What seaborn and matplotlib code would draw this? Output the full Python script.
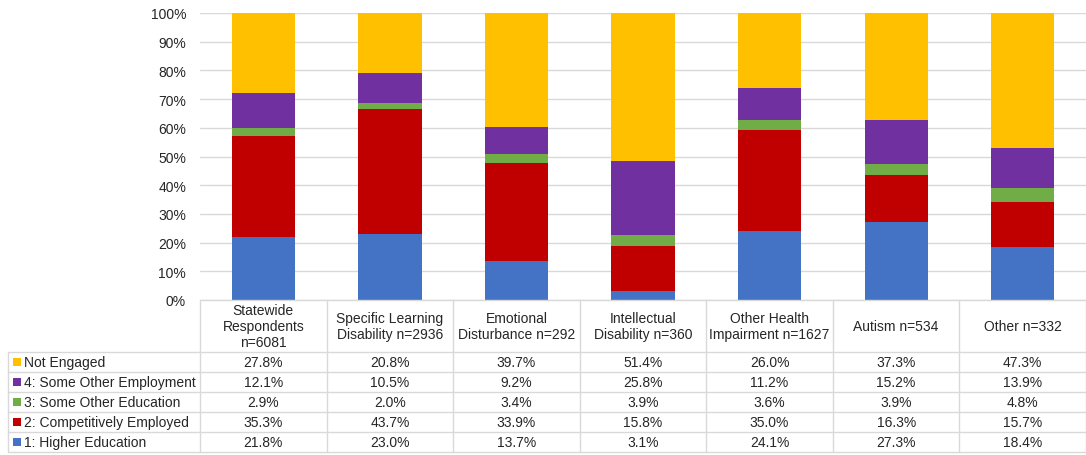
import matplotlib
matplotlib.use("Agg")
import matplotlib.pyplot as plt
from matplotlib.lines import Line2D
from matplotlib.patches import Rectangle
import numpy as np
import pandas as pd
import seaborn as sns

# Categories (column headers of the data table)
groups = [
    "Statewide\nRespondents\nn=6081",
    "Specific Learning\nDisability n=2936",
    "Emotional\nDisturbance n=292",
    "Intellectual\nDisability n=360",
    "Other Health\nImpairment n=1627",
    "Autism n=534",
    "Other n=332",
]

# Outcome shares (percent), stacked bottom to top
higher_education = [21.8, 23.0, 13.7, 3.1, 24.1, 27.3, 18.4]
competitively_employed = [35.3, 43.7, 33.9, 15.8, 35.0, 16.3, 15.7]
some_other_education = [2.9, 2.0, 3.4, 3.9, 3.6, 3.9, 4.8]
some_other_employment = [12.1, 10.5, 9.2, 25.8, 11.2, 15.2, 13.9]
not_engaged = [27.8, 20.8, 39.7, 51.4, 26.0, 37.3, 47.3]

series_names = [
    "1: Higher Education",
    "2: Competitively Employed",
    "3: Some Other Education",
    "4: Some Other Employment",
    "Not Engaged",
]
series_values = [higher_education, competitively_employed, some_other_education,
                 some_other_employment, not_engaged]
colors = ["#4472C4", "#C00000", "#70AD47", "#7030A0", "#FFC000"]

sns.set_theme(style="white")
plt.rcParams["font.family"] = ["Liberation Sans", "DejaVu Sans"]

FS = 10
TXT = "#262626"

W, H = 1086, 456
fig = plt.figure(figsize=(W / 100, H / 100), dpi=100)

def fx(px):
    return px / W

def fy(py):
    return 1 - py / H

left_px, right_px, top_px, bottom_px = 200, 1086, 14, 301
ax = fig.add_axes([fx(left_px), fy(bottom_px), fx(right_px - left_px), (bottom_px - top_px) / H])

bottom = np.zeros(len(groups))
for name, vals, col in zip(series_names, series_values, colors):
    d = pd.DataFrame({"x": list(range(len(groups))), "y": vals})
    sns.barplot(data=d, x="x", y="y", color=col, width=0.5, bottom=bottom,
                ax=ax, saturation=1, edgecolor="none", linewidth=0, zorder=3)
    bottom = bottom + np.array(vals)

ax.set_xlim(-0.5, len(groups) - 0.5)
ax.set_ylim(0, 100)
ax.set_yticks(np.arange(0, 101, 10))
ax.set_yticklabels([f"{v}%" for v in range(0, 101, 10)], fontsize=FS, color=TXT)
ax.tick_params(axis="y", length=0, pad=10)
ax.set_xticks([])
ax.set_xlabel("")
ax.set_ylabel("")
ax.grid(axis="y", color="#D9D9D9", linewidth=1, zorder=0)
for s in ax.spines.values():
    s.set_visible(False)

# Data table below the chart
line_color = "#D9D9D9"
col_edges = np.linspace(left_px, right_px, len(groups) + 1)
row_edges = [353, 373, 393, 413, 433, 453]
table_left = 8

def hline(y, x0, x1):
    fig.add_artist(Line2D([fx(x0), fx(x1)], [fy(y), fy(y)], color=line_color, linewidth=1))

def vline(x, y0, y1):
    fig.add_artist(Line2D([fx(x), fx(x)], [fy(y0), fy(y1)], color=line_color, linewidth=1))

hline(bottom_px, left_px, right_px)
for y in row_edges:
    hline(y, table_left, right_px)
for x in col_edges:
    vline(x, bottom_px, row_edges[-1])
vline(table_left, row_edges[0], row_edges[-1])

# Column headers
for i, g in enumerate(groups):
    cx = (col_edges[i] + col_edges[i + 1]) / 2
    fig.text(fx(cx), fy((bottom_px + row_edges[0]) / 2), g, ha="center", va="center",
             fontsize=FS, color=TXT, linespacing=1.15)

# Rows: top row is the last series
row_order = list(range(len(series_names)))[::-1]
for r, si in enumerate(row_order):
    y0, y1 = row_edges[r], row_edges[r + 1]
    cy = (y0 + y1) / 2
    fig.add_artist(Rectangle((fx(13), fy(cy + 4)), fx(8), 8 / H, facecolor=colors[si],
                             edgecolor="none", transform=fig.transFigure))
    fig.text(fx(24), fy(cy), series_names[si], ha="left", va="center",
             fontsize=FS, color=TXT)
    for i, v in enumerate(series_values[si]):
        cx = (col_edges[i] + col_edges[i + 1]) / 2
        fig.text(fx(cx), fy(cy), f"{v:.1f}%", ha="center", va="center",
                 fontsize=FS, color=TXT)

fig.savefig("out.png", dpi=100, facecolor="white")
